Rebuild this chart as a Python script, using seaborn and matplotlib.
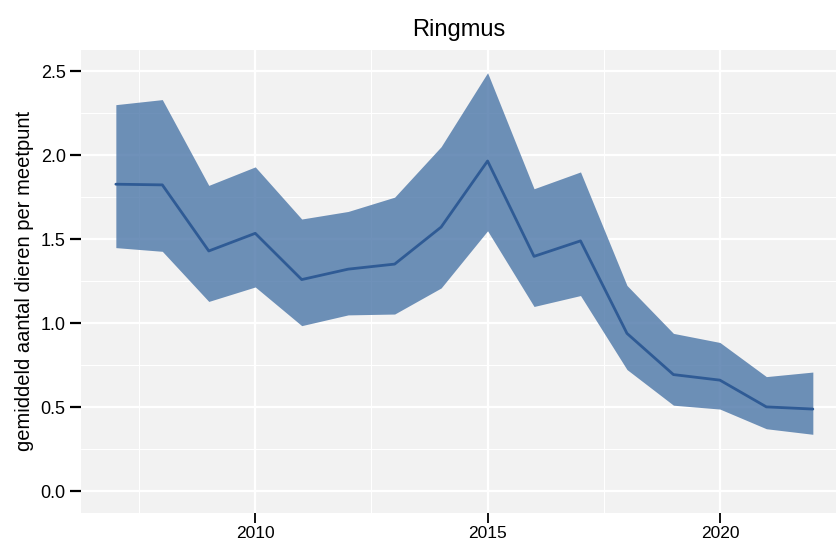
import matplotlib
matplotlib.use("Agg")
import matplotlib.pyplot as plt
import seaborn as sns
import pandas as pd
from matplotlib.ticker import MultipleLocator

years = list(range(2007, 2023))
mean_vals = [1.827, 1.823, 1.43, 1.535, 1.26, 1.322, 1.352, 1.572, 1.965, 1.398, 1.49, 0.94, 0.695, 0.662, 0.503, 0.49]
upper_vals = [2.30, 2.33, 1.82, 1.93, 1.62, 1.665, 1.75, 2.05, 2.49, 1.80, 1.90, 1.225, 0.94, 0.886, 0.683, 0.71]
lower_vals = [1.45, 1.428, 1.13, 1.216, 0.986, 1.05, 1.055, 1.21, 1.55, 1.10, 1.165, 0.725, 0.513, 0.49, 0.373, 0.34]

title = "Ringmus"
ylabel = "gemiddeld aantal dieren per meetpunt"

df = pd.DataFrame({"jaar": years, "gemiddelde": mean_vals, "hoog": upper_vals, "laag": lower_vals})

sns.set_theme(style="darkgrid")
plt.rcParams["font.family"] = ["Liberation Sans", "DejaVu Sans"]

fig = plt.figure(figsize=(8.38, 5.43), dpi=100)
W, H = 838, 543
ax = fig.add_axes([81 / W, 1 - 512.5 / H, (837 - 81) / W, (512.5 - 50) / H])
ax.set_facecolor("#F2F2F2")

ax.fill_between(df["jaar"], df["laag"], df["hoog"], color="#4B76A8", alpha=0.8, linewidth=0, zorder=2)
sns.lineplot(data=df, x="jaar", y="gemiddelde", ax=ax, color="#2F5B95", linewidth=2, zorder=3)

ax.set_xlim(2006.25, 2022.52)
ax.set_ylim(-0.125, 2.625)
ax.xaxis.set_major_locator(MultipleLocator(5))
ax.xaxis.set_minor_locator(MultipleLocator(2.5))
ax.yaxis.set_major_locator(MultipleLocator(0.5))
ax.yaxis.set_minor_locator(MultipleLocator(0.25))
ax.set_yticks([0, 0.5, 1.0, 1.5, 2.0, 2.5])
ax.set_yticklabels(["0.0", "0.5", "1.0", "1.5", "2.0", "2.5"])

ax.grid(which="major", color="white", linewidth=1.6, zorder=1)
ax.grid(which="minor", color="white", linewidth=0.8, zorder=1)
ax.set_axisbelow(True)
for s in ax.spines.values():
    s.set_visible(False)

ax.tick_params(axis="y", which="major", length=8, width=1.6, color="black", labelsize=13, pad=3, left=True)
ax.tick_params(axis="x", which="major", length=7.5, width=1.3, color="black", labelsize=12.5, pad=2, bottom=True)
ax.tick_params(which="minor", length=0)
for lbl in ax.get_xticklabels() + ax.get_yticklabels():
    lbl.set_color("black")

ax.set_xlabel("")
ax.set_ylabel(ylabel, fontsize=14.5, color="black", labelpad=5)
ax.set_title(title, fontsize=17, color="black", pad=10)

fig.savefig("out.png", dpi=100)
